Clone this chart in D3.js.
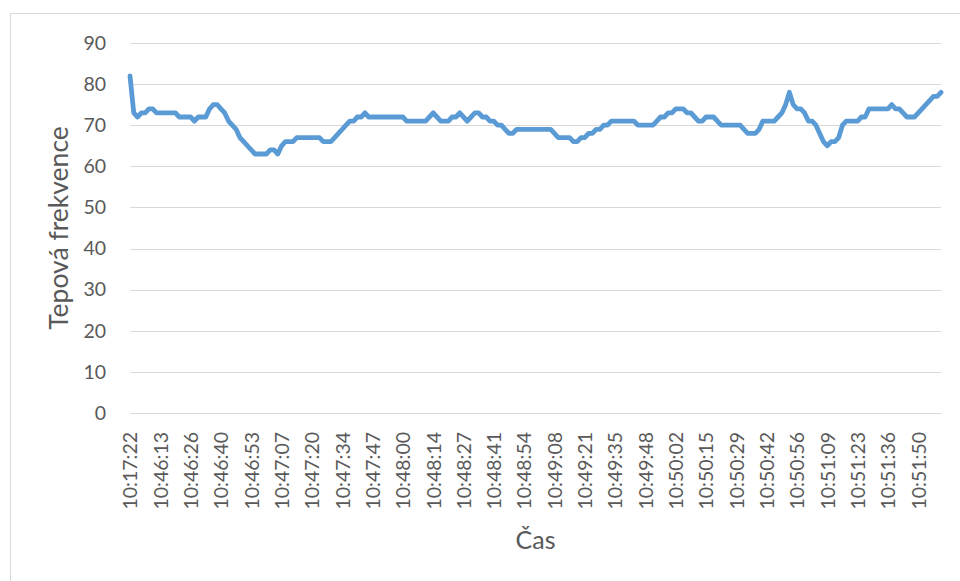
<!DOCTYPE html>
<meta charset="utf-8">
<style>
body { margin: 0; background: #fff; }
text { font-family: Lato, "Open Sans", sans-serif; fill: #595959; }
.grid line { stroke: #d9d9d9; stroke-width: 1.3; shape-rendering: crispEdges; }
</style>
<div id="chart"></div>
<script src="https://d3js.org/d3.v7.min.js"></script>
<script>

// tick labels of the category axis (every 8th sample)
var timeLabels = ["10:17:22", "10:46:13", "10:46:26", "10:46:40", "10:46:53", "10:47:07",
  "10:47:20", "10:47:34", "10:47:47", "10:48:00", "10:48:14", "10:48:27", "10:48:41",
  "10:48:54", "10:49:08", "10:49:21", "10:49:35", "10:49:48", "10:50:02", "10:50:15",
  "10:50:29", "10:50:42", "10:50:56", "10:51:09", "10:51:23", "10:51:36", "10:51:50"];
var labelEvery = 8;

// heart rate, one value per sample
var heartRate = [
  82, 73, 72, 73, 73, 74, 74, 73, 73, 73, 73, 73, 73, 72, 72, 72,
  72, 71, 72, 72, 72, 74, 75, 75, 74, 73, 71, 70, 69, 67, 66, 65,
  64, 63, 63, 63, 63, 64, 64, 63, 65, 66, 66, 66, 67, 67, 67, 67,
  67, 67, 67, 66, 66, 66, 67, 68, 69, 70, 71, 71, 72, 72, 73, 72,
  72, 72, 72, 72, 72, 72, 72, 72, 72, 71, 71, 71, 71, 71, 71, 72,
  73, 72, 71, 71, 71, 72, 72, 73, 72, 71, 72, 73, 73, 72, 72, 71,
  71, 70, 70, 69, 68, 68, 69, 69, 69, 69, 69, 69, 69, 69, 69, 69,
  68, 67, 67, 67, 67, 66, 66, 67, 67, 68, 68, 69, 69, 70, 70, 71,
  71, 71, 71, 71, 71, 71, 70, 70, 70, 70, 70, 71, 72, 72, 73, 73,
  74, 74, 74, 73, 73, 72, 71, 71, 72, 72, 72, 71, 70, 70, 70, 70,
  70, 70, 69, 68, 68, 68, 69, 71, 71, 71, 71, 72, 73, 75, 78, 75,
  74, 74, 73, 71, 71, 70, 68, 66, 65, 66, 66, 67, 70, 71, 71, 71,
  71, 72, 72, 74, 74, 74, 74, 74, 74, 75, 74, 74, 73, 72, 72, 72,
  73, 74, 75, 76, 77, 77, 78
];
var yTicks = [0, 10, 20, 30, 40, 50, 60, 70, 80, 90];

var width = 960, height = 581;
var margin = {top: 43, right: 19, bottom: 168, left: 130};

var svg = d3.select("#chart")
  .append("svg")
    .attr("width", width)
    .attr("height", height);

// chart area border (right and bottom edges are off the picture)
svg.append("rect")
  .attr("x", 10.5).attr("y", 13.5)
  .attr("width", 1000).attr("height", 1000)
  .attr("fill", "none")
  .attr("stroke", "#d9d9d9");

var x = d3.scaleLinear()
  .domain([0, heartRate.length - 1])
  .range([margin.left, width - margin.right]);

var y = d3.scaleLinear()
  .domain([0, 90])
  .range([height - margin.bottom, margin.top]);

// horizontal gridlines
svg.append("g")
  .attr("class", "grid")
  .selectAll("line")
  .data(yTicks)
  .enter()
  .append("line")
    .attr("x1", x.range()[0])
    .attr("x2", x.range()[1])
    .attr("y1", function(d) { return Math.round(y(d)) + 0.5; })
    .attr("y2", function(d) { return Math.round(y(d)) + 0.5; });

// Y axis labels
var yAxis = svg.append("g")
  .attr("transform", "translate(" + (margin.left - 24) + ",0)")
  .call(d3.axisLeft(y).tickValues(yTicks).tickSize(0).tickPadding(0));
yAxis.select(".domain").remove();
yAxis.selectAll("text")
  .style("font-size", "19.5px")
  .style("font-family", "Lato, sans-serif")
  .attr("fill", "#595959");

// X axis labels, rotated
var xAxis = svg.append("g")
  .attr("transform", "translate(0," + (height - margin.bottom) + ")")
  .call(d3.axisBottom(x)
    .tickValues(d3.range(0, timeLabels.length).map(function(i) { return i * labelEvery; }))
    .tickFormat(function(d) { return timeLabels[d / labelEvery]; })
    .tickSize(0));
xAxis.select(".domain").remove();
xAxis.selectAll("text")
  .style("font-size", "19.5px")
  .style("font-family", "Lato, sans-serif")
  .attr("fill", "#595959")
  .attr("text-anchor", "end")
  .attr("transform", "rotate(-90)")
  .attr("x", -19)
  .attr("y", 0)
  .attr("dy", "0.35em");

// the line
var line = d3.line()
  .x(function(d, i) { return x(i); })
  .y(function(d) { return y(d); });

svg.append("path")
  .datum(heartRate)
  .attr("d", line)
  .attr("fill", "none")
  .attr("stroke", "#5b9bd5")
  .attr("stroke-width", 4.8)
  .attr("stroke-linejoin", "round")
  .attr("stroke-linecap", "round");

// axis titles
svg.append("text")
  .attr("transform", "translate(68," + ((y(0) + y(90)) / 2) + ") rotate(-90)")
  .attr("text-anchor", "middle")
  .style("font-size", "26.5px")
  .text("Tepová frekvence");

svg.append("text")
  .attr("x", (x.range()[0] + x.range()[1]) / 2)
  .attr("y", 549)
  .attr("text-anchor", "middle")
  .style("font-size", "25px")
  .text("Čas");

</script>
